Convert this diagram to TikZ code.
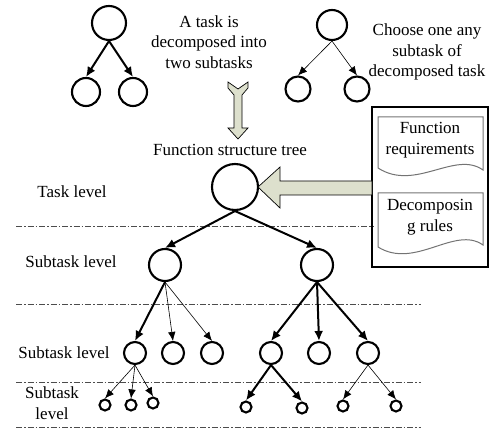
\documentclass[tikz,border=0pt]{standalone}
\usepackage{fontspec}
\setmainfont{Liberation Serif}
\usetikzlibrary{arrows.meta}
\definecolor{olx}{RGB}{221,224,205}
\colorlet{dsh}{black!70}
\colorlet{dcx}{black!55}
\tikzset{
    tsk/.style={circle,draw,line width=2.1pt,inner sep=0pt,minimum size=#1},
    hv/.style={line width=2pt,-{Latex[length=10pt,width=9pt]}},
    lt/.style={line width=0.6pt,-{Latex[length=9pt,width=7.5pt]}},
    lbl/.style={font=\fontsize{17}{20.5}\selectfont,align=center,inner sep=0pt},
    lvl/.style={dsh,line width=0.9pt,dash pattern=on 6pt off 2pt on 1.5pt off 2pt},
    fat/.style={draw=black,line width=0.7pt,fill=olx},
    doc/.style={draw=dcx,line width=1pt}
}
\begin{document}
\begin{tikzpicture}[x=1pt,y=-1pt]
    \useasboundingbox (0,0) rectangle (493,430);
    % the two small examples on top
    \node [tsk=34pt] (ea) at (109,23) {};
    \node [tsk=28pt] (eb) at (86,92) {};
    \node [tsk=28pt] (ec) at (133,92) {};
    \draw [hv] (ea.south) -- (eb.north);
    \draw [hv] (ea.south) -- (ec.north);
    \node [lbl] (etxt) at (209,42) {A task is\\decomposed into\\two subtasks};
    \node [tsk=30pt] (fa) at (332,25) {};
    \node [tsk=25pt] (fb) at (298,89) {};
    \node [tsk=25pt] (fc) at (357,89) {};
    \draw [lt] (fa.south) -- (fb.north);
    \draw [lt] (fa.south) -- (fc.north);
    \node [lbl] (ftxt) at (427,52) {Choose one any\\subtask of\\decomposed task};
    % down arrow
    \draw [fat] (228,82) -- (238,89) -- (248,82) -- (248,88) -- (242,95)
        -- (242,128) -- (248,128) -- (238,139) -- (228,128) -- (234,128)
        -- (234,95) -- (228,88) -- cycle;
    \node [lbl] (fst) at (230,150) {Function structure tree};
    % levels
    \draw [lvl] (16,226) -- (373,226);
    \foreach \y in {304,382,427} {
        \draw [lvl] (16,\y) -- (421,\y);
    }
    \node [lbl] (lv0) at (72,192) {Task level};
    \node [lbl] (lv1) at (71,262) {Subtask level};
    \node [lbl] (lv2) at (64,353) {Subtask level};
    \node [lbl] (lv3) at (52,403) {Subtask\\level};
    % tree
    \node [tsk=46pt] (r0) at (235,187) {};
    \node [tsk=32pt] (s1) at (165,265) {};
    \node [tsk=32pt] (s2) at (317,265) {};
    \foreach \n/\x in {a/135,b/173,c/212,d/271,e/319,f/368} {
        \node [tsk=22pt] (t\n) at (\x,353) {};
    }
    \foreach \n/\x/\y in {a/105/405,b/131/405,c/153/403,d/246/407,e/302/408,f/343/406,g/396/406} {
        \node [tsk=11pt] (u\n) at (\x,\y) {};
    }
    \draw [hv] (r0.south) -- (s1.north);
    \draw [hv] (r0.south) -- (s2.north);
    \draw [hv] (s1.south) -- (ta.north);
    \foreach \c in {tb,tc} {
        \draw [lt] (s1.south) -- (\c.north);
    }
    \foreach \c in {td,te,tf} {
        \draw [hv] (s2.south) -- (\c.north);
    }
    \foreach \c in {ua,ub,uc} {
        \draw [lt] (ta.south) -- (\c.north);
    }
    \foreach \c in {ud,ue} {
        \draw [hv] (td.south) -- (\c.north);
    }
    \foreach \c in {uf,ug} {
        \draw [lt] (tf.south) -- (\c.north);
    }
    % input box
    \node [draw,line width=1.3pt,minimum width=116pt,minimum height=160pt,inner sep=0pt] (bx) at (430,187) {};
    \draw [doc] (378,117) -- (483,117) -- (483,170)
        .. controls (455,150) and (415,192) .. (378,168) -- cycle;
    \draw [doc] (378,193) -- (483,193) -- (483,245)
        .. controls (455,225) and (415,270) .. (378,247) -- cycle;
    \node [lbl] (dq) at (430,140) {Function\\requirements};
    \node [lbl] (dr) at (430,217) {Decomposin\\g rules};
    \draw [fat] (372,181) -- (280,181) -- (280,167) -- (258,187)
        -- (280,208) -- (280,195) -- (372,195) -- cycle;
\end{tikzpicture}
\end{document}
